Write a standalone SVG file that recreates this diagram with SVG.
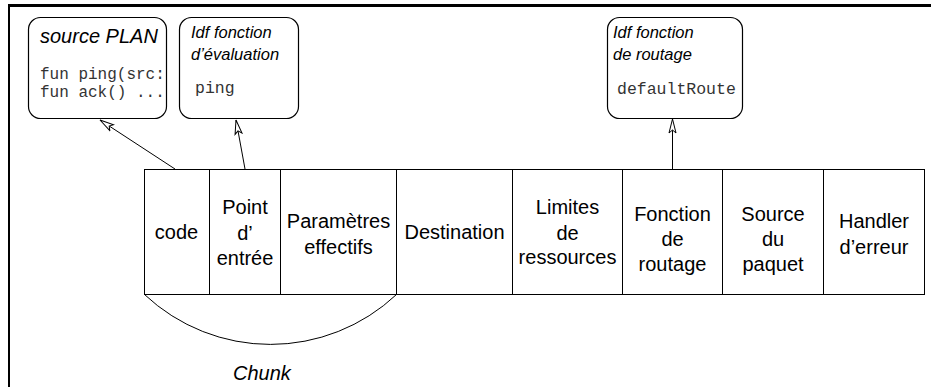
<svg xmlns="http://www.w3.org/2000/svg" width="931" height="387" viewBox="0 0 931 387">
  <style>
    .frame { fill: #000; }
    .box { fill: #fff; stroke: #000; stroke-width: 1.2; }
    .cell { fill: #fff; stroke: #000; stroke-width: 1; }
    .lbl { font-family: "Liberation Sans", Arial, sans-serif; font-size: 20px; fill: #000; text-anchor: middle; }
    .ital { font-family: "Liberation Sans", Arial, sans-serif; font-style: italic; fill: #000; }
    .mono { font-family: "Liberation Mono", "Courier New", monospace; font-size: 16.5px; fill: #333; }
    .code { font-size: 16px; }
    .conn { fill: none; stroke: #000; stroke-width: 1; }
  </style>
  <defs>
    <marker id="openHead" viewBox="0 0 16 10" refX="15" refY="5" markerWidth="16" markerHeight="10" markerUnits="userSpaceOnUse" orient="auto">
      <path d="M1,1.5 L15,5 L1,8.5 L4,5 Z" fill="#fff" stroke="#000" stroke-width="1"/>
    </marker>
    <clipPath id="clipSrc">
      <rect x="29" y="18" width="135" height="100" rx="12"/>
    </clipPath>
  </defs>

  <!-- page frame -->
  <rect class="frame" x="8" y="4" width="923" height="3"/>
  <rect class="frame" x="8" y="4" width="2" height="383"/>

  <!-- source box -->
  <g id="source-plan">
    <rect class="box" x="28.5" y="17.5" width="138" height="101" rx="12"/>
    <text class="ital" x="40" y="43" font-size="20">source PLAN</text>
    <g clip-path="url(#clipSrc)">
      <text class="mono code" x="40" y="79">fun ping(src:</text>
      <text class="mono code" x="40" y="97">fun ack() ...</text>
    </g>
  </g>

  <!-- evaluation function id -->
  <g id="idf-evaluation">
    <rect class="box" x="179.5" y="17.5" width="119" height="101" rx="12"/>
    <text class="ital" x="191" y="38" font-size="16.5">Idf fonction</text>
    <text class="ital" x="191" y="60" font-size="16.5">d’évaluation</text>
    <text class="mono" x="195" y="93">ping</text>
  </g>

  <!-- routing function id -->
  <g id="idf-routage">
    <rect class="box" x="607.5" y="17.5" width="135" height="101" rx="12"/>
    <text class="ital" x="613" y="38" font-size="16.5">Idf fonction</text>
    <text class="ital" x="613" y="60" font-size="16.5">de routage</text>
    <text class="mono" x="617" y="94">defaultRoute</text>
  </g>

  <!-- packet fields -->
  <g id="packet">
    <g id="f-code">
      <rect class="cell" x="144.5" y="169.5" width="65" height="125"/>
      <text class="lbl" x="176.5" y="239">code</text>
    </g>
    <g id="f-point">
      <rect class="cell" x="209.5" y="169.5" width="71" height="125"/>
      <text class="lbl" x="245" y="214">Point</text>
      <text class="lbl" x="245" y="239.5">d’</text>
      <text class="lbl" x="245" y="265">entrée</text>
    </g>
    <g id="f-params">
      <rect class="cell" x="280.5" y="169.5" width="116" height="125"/>
      <text class="lbl" x="338.5" y="228">Paramètres</text>
      <text class="lbl" x="338.5" y="254">effectifs</text>
    </g>
    <g id="f-dest">
      <rect class="cell" x="396.5" y="169.5" width="116" height="125"/>
      <text class="lbl" x="454.5" y="239">Destination</text>
    </g>
    <g id="f-limites">
      <rect class="cell" x="512.5" y="169.5" width="110" height="125"/>
      <text class="lbl" x="567.5" y="214">Limites</text>
      <text class="lbl" x="567.5" y="239.5">de</text>
      <text class="lbl" x="567.5" y="264">ressources</text>
    </g>
    <g id="f-routage">
      <rect class="cell" x="622.5" y="169.5" width="100" height="125"/>
      <text class="lbl" x="672.5" y="221">Fonction</text>
      <text class="lbl" x="672.5" y="246">de</text>
      <text class="lbl" x="672.5" y="271">routage</text>
    </g>
    <g id="f-source">
      <rect class="cell" x="722.5" y="169.5" width="101" height="125"/>
      <text class="lbl" x="773" y="221">Source</text>
      <text class="lbl" x="773" y="246">du</text>
      <text class="lbl" x="773" y="271">paquet</text>
    </g>
    <g id="f-handler">
      <rect class="cell" x="823.5" y="169.5" width="101" height="125"/>
      <text class="lbl" x="874" y="228">Handler</text>
      <text class="lbl" x="874" y="254">d’erreur</text>
    </g>
  </g>

  <!-- connectors -->
  <g id="connectors">
    <line class="conn" x1="175" y1="169" x2="100" y2="120" marker-end="url(#openHead)"/>
    <line class="conn" x1="245" y1="169" x2="236" y2="120" marker-end="url(#openHead)"/>
    <line class="conn" x1="672.5" y1="169" x2="672.5" y2="119" marker-end="url(#openHead)"/>
    <path id="chunk-arc" class="conn" d="M144.5,294.5 A184,184 0 0 0 396.5,294.5"/>
  </g>

  <text class="ital" x="233" y="380" font-size="20">Chunk</text>
</svg>
